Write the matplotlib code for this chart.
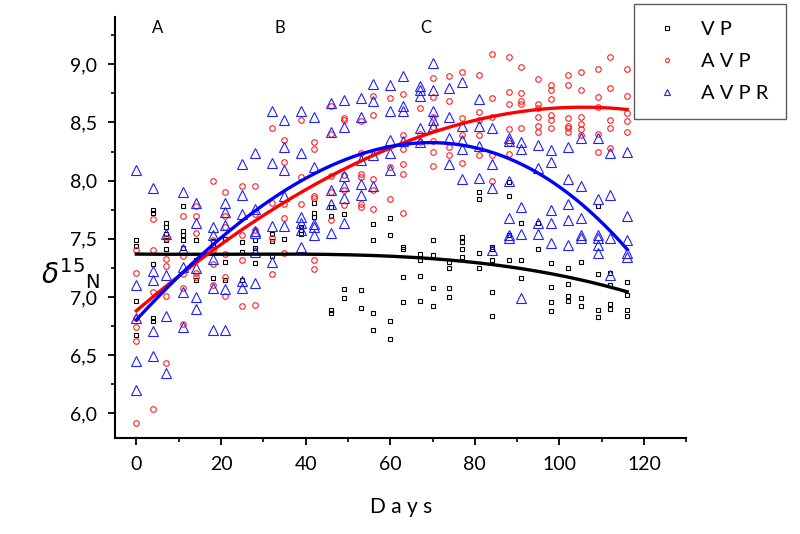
import numpy as np
import matplotlib
matplotlib.use("Agg")
import matplotlib.pyplot as plt
from matplotlib.ticker import MultipleLocator, FuncFormatter

plt.rcParams['font.family'] = ['Lato', 'DejaVu Sans']

days = [0, 4, 7, 11, 14, 18, 21, 25, 28, 32, 35, 39, 42, 46, 49, 53, 56,
        60, 63, 67, 70, 74, 77, 81, 84, 88, 91, 95, 98, 102, 105, 109, 112, 116]

vp = [
    [7.49, 7.44, 6.97, 6.67], [7.75, 7.72, 7.28, 6.82, 6.79],
    [7.64, 7.60, 7.54, 7.49, 7.41], [7.78, 7.57, 7.53, 7.49, 7.42],
    [7.49, 7.32, 7.15], [7.48, 7.45, 7.16], [7.50, 7.30, 7.15],
    [7.47, 7.39, 7.15], [7.49, 7.42, 7.29], [7.54, 7.48, 7.35], [7.50],
    [7.60, 7.58, 7.54], [7.81, 7.72, 7.69], [7.77, 7.70, 6.89, 6.86],
    [7.71, 7.07, 6.99], [7.06, 6.91], [7.63, 7.49, 6.86, 6.72],
    [7.68, 7.53, 6.79, 6.64], [7.43, 7.41, 7.17, 6.96], [7.37, 7.32, 7.18, 6.97],
    [7.49, 7.36, 7.08, 6.92], [7.30, 7.25, 7.08, 7.00], [7.52, 7.47, 7.41, 7.34],
    [7.90, 7.84, 7.38, 7.25], [7.43, 7.41, 7.32, 7.04, 6.84],
    [7.99, 7.87, 7.53, 7.32], [7.64, 7.32, 7.16], [7.64, 7.41],
    [7.29, 7.09, 6.96, 6.88], [7.25, 7.11, 7.01, 6.97], [7.30, 6.99, 6.92],
    [7.78, 7.20, 6.89, 6.83], [7.21, 7.10, 6.94, 6.90], [7.13, 7.02, 6.89, 6.84],
]

avp = [
    [7.40, 7.21, 6.82, 6.74, 6.62, 5.92], [7.67, 7.40, 7.04, 6.04],
    [7.51, 7.33, 7.27, 7.01, 6.43], [7.70, 7.35, 7.20, 7.08, 6.77],
    [7.78, 7.70, 7.55, 7.21, 7.17], [8.00, 7.49, 7.40, 7.28, 7.10],
    [7.90, 7.70, 7.60, 7.37, 7.17, 7.01], [7.95, 7.53, 7.32, 6.92],
    [7.95, 7.71, 7.58, 6.93], [8.45, 7.81, 7.51, 7.20],
    [8.35, 8.16, 7.80, 7.68, 7.38], [8.52, 8.03, 7.80],
    [8.33, 8.27, 7.87, 7.85, 7.32, 7.24], [8.64, 8.40, 8.04, 7.90, 7.66],
    [8.54, 8.52, 8.05, 7.92, 7.79], [8.51, 8.24, 8.06, 8.03, 7.80, 7.77],
    [8.73, 8.56, 8.01, 7.92, 7.76], [8.71, 8.12, 7.84],
    [8.74, 8.39, 8.27, 8.14, 8.06, 7.72], [8.62, 8.40, 8.33],
    [8.88, 8.72, 8.55, 8.46, 8.34, 8.25, 8.13], [8.90, 8.68, 8.29, 8.22],
    [8.93, 8.54, 8.39, 8.15], [8.91, 8.59, 8.52, 8.39, 8.22],
    [9.09, 8.71, 8.55, 8.22, 8.00], [9.06, 8.76, 8.66, 8.44, 8.32, 8.23],
    [8.98, 8.75, 8.68, 8.66, 8.45], [8.87, 8.66, 8.62, 8.55, 8.47, 8.42],
    [8.82, 8.78, 8.70, 8.56, 8.52, 8.45], [8.91, 8.82, 8.54, 8.47, 8.45, 8.42],
    [8.93, 8.78, 8.55, 8.49, 8.44, 8.39], [8.96, 8.72, 8.63, 8.40, 8.25],
    [9.06, 8.80, 8.52, 8.45, 8.28], [8.96, 8.73, 8.58, 8.51, 8.42],
]

avpr = [
    [8.09, 7.10, 6.82, 6.45, 6.20], [7.94, 7.22, 7.15, 6.71, 6.49],
    [7.54, 7.19, 6.84, 6.35], [7.90, 7.41, 7.26, 7.04, 6.74],
    [7.81, 7.64, 7.25, 7.00, 6.90], [7.60, 7.53, 7.33, 7.08, 6.72],
    [7.81, 7.73, 7.62, 7.07, 6.72], [8.14, 7.88, 7.71, 7.14, 7.08],
    [8.24, 7.76, 7.57, 7.55, 7.39, 7.12], [8.60, 8.15, 7.61, 7.30],
    [8.52, 8.29, 8.09, 7.87, 7.61], [8.60, 8.24, 7.69, 7.64, 7.58, 7.43],
    [8.55, 8.12, 7.63, 7.60, 7.53], [8.67, 8.42, 7.92, 7.80, 7.55],
    [8.69, 8.46, 8.04, 7.95, 7.85, 7.64], [8.71, 8.55, 8.18, 7.97, 7.88],
    [8.83, 8.68, 8.22, 7.95], [8.82, 8.60, 8.35, 8.24, 8.09],
    [8.90, 8.64, 8.60, 8.34], [8.81, 8.78, 8.73, 8.45, 8.33],
    [9.01, 8.78, 8.60, 8.52, 8.47], [8.80, 8.55, 8.37, 8.14],
    [8.85, 8.47, 8.35, 8.27, 8.01], [8.70, 8.47, 8.30, 8.02],
    [8.45, 8.14, 7.94, 7.40], [8.37, 8.34, 8.00, 7.68, 7.53, 7.51],
    [8.33, 8.27, 7.77, 7.54, 6.99], [8.31, 8.11, 7.64, 7.54],
    [8.26, 8.16, 7.75, 7.64, 7.46], [8.29, 8.01, 7.80, 7.66, 7.45],
    [8.37, 7.95, 7.68, 7.53, 7.51], [8.37, 7.84, 7.53, 7.51, 7.45, 7.38],
    [8.24, 7.88, 7.51, 7.19], [8.25, 7.70, 7.49, 7.38, 7.34],
]

labels = ['V P', 'A V P', 'A V P R']
colors = ['black', '#ff2020', '#2020ff']
line_colors = ['black', 'red', 'blue']
markers = ['s', 'o', '^']
msizes = [3.5, 4, 6.5]


def flatten(groups):
    xs, ys = [], []
    for d, vals in zip(days, groups):
        xs += [d] * len(vals)
        ys += vals
    return np.array(xs, float), np.array(ys, float)


fig = plt.figure(figsize=(8, 5.34), dpi=100)
ax = fig.add_axes([0.144, 0.18, 0.714, 0.788])

handles = []
for groups, lab, c, lc, m, ms in zip([vp, avp, avpr], labels, colors,
                                     line_colors, markers, msizes):
    x, y = flatten(groups)
    h, = ax.plot(x, y, linestyle='none', marker=m, markersize=ms,
                 markerfacecolor='none', markeredgecolor=c,
                 markeredgewidth=0.8, label=lab)
    handles.append(h)
    # cubic trend line through each series
    coef = np.polyfit(x, y, 3)
    xf = np.linspace(0, 116, 200)
    ax.plot(xf, np.polyval(coef, xf), color=lc, lw=2.4, zorder=3)

ax.set_xlim(-5, 130)
ax.set_ylim(5.79, 9.405)
ax.xaxis.set_major_locator(MultipleLocator(20))
ax.xaxis.set_minor_locator(MultipleLocator(10))
ax.yaxis.set_major_locator(MultipleLocator(0.5))
ax.yaxis.set_minor_locator(MultipleLocator(0.25))
ax.yaxis.set_major_formatter(FuncFormatter(lambda v, p: f"{v:.1f}".replace('.', ',')))
ax.spines['top'].set_visible(False)
ax.spines['right'].set_visible(False)
for s in ('left', 'bottom'):
    ax.spines[s].set_linewidth(1.5)
ax.tick_params(which='major', direction='out', length=5, width=1.3,
               labelsize=14, pad=8)
ax.tick_params(which='minor', direction='out', length=3, width=1.2)

ax.set_xlabel('D a y s', fontsize=15, labelpad=17)
# y label sits between the 7,5 and 7,0 tick labels
fig.text(0.125, 0.487, r'$\delta^{15}{}_{\mathrm{N}}$', fontsize=20,
         ha='right', va='center')

for txt, xd in zip(['A', 'B', 'C'], [5, 34, 68.5]):
    ax.text(xd, 9.31, txt, fontsize=12, ha='center', va='center')

leg = fig.legend(handles=handles, loc='upper left',
                 bbox_to_anchor=(0.7925, 0.993), borderaxespad=0,
                 fontsize=14.5, frameon=True, fancybox=False,
                 edgecolor='#333333', borderpad=0.85, labelspacing=0.75,
                 handlelength=1.6, handletextpad=0.9, markerscale=0.7)
leg.get_frame().set_linewidth(1.0)

fig.savefig('out.png', dpi=100)
